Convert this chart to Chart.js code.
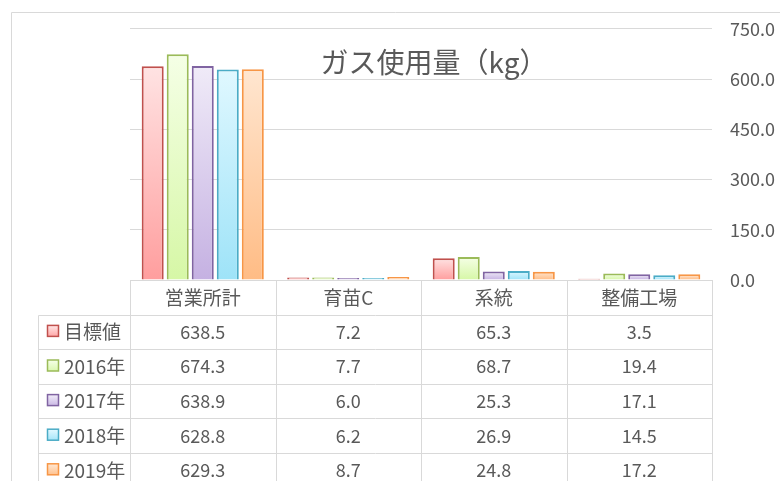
<!DOCTYPE html>
<html>
<head>
<meta charset="utf-8">
<script src="https://cdn.jsdelivr.net/npm/chart.js@4"></script>
<style>
  body { margin: 0; background: #fff; }
  #wrap { width: 780px; height: 481px; }
</style>
</head>
<body>
<div id="wrap"><canvas id="gasChart" width="780" height="481"></canvas></div>
<script>
const categories = ['営業所計', '育苗C', '系統', '整備工場'];
const seriesNames = ['目標値', '2016年', '2017年', '2018年', '2019年'];
const target = [638.5, 7.2, 65.3, 3.5];
const y2016 = [674.3, 7.7, 68.7, 19.4];
const y2017 = [638.9, 6.0, 25.3, 17.1];
const y2018 = [628.8, 6.2, 26.9, 14.5];
const y2019 = [629.3, 8.7, 24.8, 17.2];
const yTicks = [0, 150, 300, 450, 600, 750];

const palette = [
  { border: '#C0504D', top: '#FFE3E3', bottom: '#FF9E9E' },
  { border: '#9BBB59', top: '#F5FFE6', bottom: '#D6F7A6' },
  { border: '#8064A2', top: '#F0EBF8', bottom: '#C5B1E2' },
  { border: '#4BACC6', top: '#E0F8FF', bottom: '#9EE3F8' },
  { border: '#F79646', top: '#FFE6D0', bottom: '#FFBC85' }
];

const textColor = '#595959';
const lineColor = '#d9d9d9';
const font = '"Noto Sans CJK JP", "Noto Sans", sans-serif';

// gradient per bar: light at the top, stronger at the base
const barFill = (idx) => (ctx) => {
  const chart = ctx.chart;
  if (!chart.chartArea || ctx.raw == null) return palette[idx].bottom;
  const ys = chart.scales.y;
  const top = ys.getPixelForValue(ctx.raw);
  const base = ys.getPixelForValue(0);
  const g = chart.ctx.createLinearGradient(0, top, 0, base + 0.01);
  g.addColorStop(0, palette[idx].top);
  g.addColorStop(1, palette[idx].bottom);
  return g;
};

const allSeries = [target, y2016, y2017, y2018, y2019];

const datasets = allSeries.map((vals, i) => ({
  label: seriesNames[i],
  data: vals,
  backgroundColor: barFill(i),
  borderColor: palette[i].border,
  borderWidth: 2,
  borderSkipped: 'bottom',
  categoryPercentage: 0.86,
  barPercentage: 0.88
}));

// frame, title and data table below the plot
const tablePlugin = {
  id: 'dataTable',
  afterDraw(chart) {
    const c = chart.ctx;
    const xs = chart.scales.x;
    const area = chart.chartArea;
    const colW = (area.right - area.left) / categories.length;
    const top = area.bottom;
    const rowH = 34.6;
    const legendLeft = 38.5;

    c.save();
    c.strokeStyle = lineColor;
    c.lineWidth = 1;

    // outer frame
    c.beginPath();
    c.moveTo(11.5, 481);
    c.lineTo(11.5, 12.5);
    c.lineTo(780, 12.5);
    c.stroke();

    // header row
    c.beginPath();
    const headerLeft = Math.round(area.left) + 0.5;
    const right = Math.round(area.right) + 0.5;
    c.moveTo(headerLeft, top + 0.5);
    c.lineTo(right, top + 0.5);
    for (let r = 1; r <= seriesNames.length + 1; r++) {
      const y = Math.round(top + r * rowH) + 0.5;
      c.moveTo(legendLeft, y);
      c.lineTo(right, y);
    }
    // vertical lines
    for (let k = 0; k <= categories.length; k++) {
      const x = Math.round(area.left + k * colW) + 0.5;
      c.moveTo(x, top);
      c.lineTo(x, 481);
    }
    c.moveTo(legendLeft, Math.round(top + rowH) + 0.5);
    c.lineTo(legendLeft, 481);
    c.stroke();

    c.fillStyle = textColor;
    c.textBaseline = 'middle';
    c.textAlign = 'center';
    c.font = '19px ' + font;
    categories.forEach((cat, k) => {
      c.fillText(cat, xs.getPixelForValue(k), top + rowH / 2);
    });

    allSeries.forEach((vals, i) => {
      const cy = top + rowH * (i + 1.5);
      c.textAlign = 'center';
      c.font = '18px ' + font;
      c.fillStyle = textColor;
      vals.forEach((v, k) => {
        c.fillText(v.toFixed(1), xs.getPixelForValue(k), cy);
      });
      // legend key
      const p = palette[i];
      const kg = c.createLinearGradient(0, cy - 6, 0, cy + 6);
      kg.addColorStop(0, p.top);
      kg.addColorStop(1, p.bottom);
      c.fillStyle = kg;
      c.fillRect(47.5, cy - 6.5, 11, 11);
      c.strokeStyle = p.border;
      c.lineWidth = 1.5;
      c.strokeRect(47.5, cy - 6.5, 11, 11);
      c.fillStyle = textColor;
      c.textAlign = 'left';
      c.font = '19px ' + font;
      c.fillText(seriesNames[i], 64, cy);
    });

    // title inside plot area
    c.textAlign = 'center';
    c.font = '28px ' + font;
    c.fillStyle = textColor;
    c.fillText('ガス使用量（kg）', 434, 62);
    c.restore();
  }
};

new Chart(document.getElementById('gasChart').getContext('2d'), {
  type: 'bar',
  data: { labels: categories, datasets: datasets },
  options: {
    responsive: false,
    animation: false,
    layout: { padding: { left: 130, top: 25, bottom: 201, right: 0 } },
    plugins: {
      legend: { display: false },
      tooltip: { enabled: false },
      title: { display: false }
    },
    scales: {
      x: { display: false },
      y: {
        position: 'right',
        min: 0,
        max: 750,
        afterBuildTicks: (scale) => { scale.ticks = yTicks.map(v => ({ value: v })); },
        afterFit: (scale) => { scale.width = 68; },
        ticks: {
          padding: 18,
          color: textColor,
          font: { size: 18, family: font },
          callback: (v) => Number(v).toFixed(1)
        },
        grid: { color: lineColor, drawTicks: false },
        border: { display: false }
      }
    }
  },
  plugins: [tablePlugin]
});
</script>
</body>
</html>
